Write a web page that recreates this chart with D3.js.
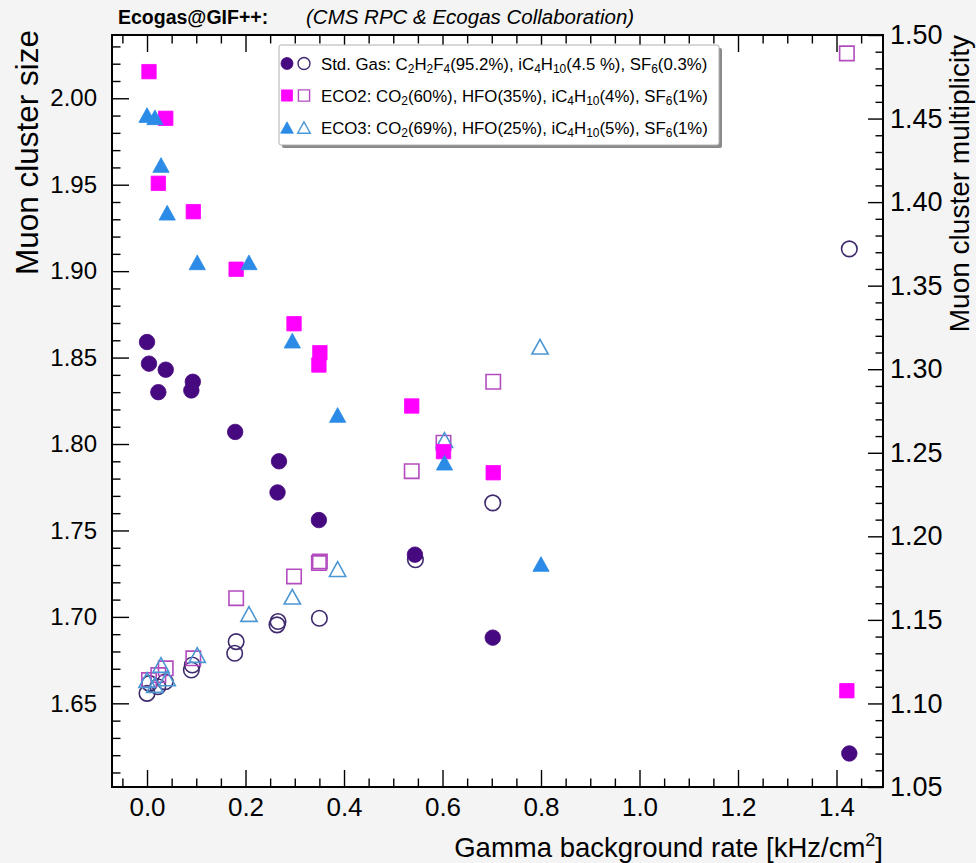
<!DOCTYPE html>
<html>
<head>
<meta charset="utf-8">
<script src="https://cdn.jsdelivr.net/npm/d3@7"></script>
<style>
  html, body { margin: 0; padding: 0; background: #f4f4f4; }
  svg { display: block; }
  text { font-family: "Liberation Sans", Arial, Helvetica, sans-serif; }
</style>
</head>
<body>
<svg id="chart" width="976" height="863"></svg>
<script>
// Gamma background rate [kHz/cm2] and measured values per gas mixture.
// Filled markers: muon cluster size (left axis). Open markers: muon cluster multiplicity (right axis).
const stdSizeX  = [0.0, 0.004, 0.038, 0.023, 0.093, 0.090, 0.179, 0.268, 0.265, 0.349, 0.544, 0.702, 1.426];
const stdSizeY  = [1.859, 1.8465, 1.843, 1.830, 1.836, 1.831, 1.807, 1.790, 1.772, 1.756, 1.736, 1.688, 1.621];
const stdMultX  = [0.0, 0.005, 0.022, 0.037, 0.090, 0.092, 0.178, 0.181, 0.264, 0.266, 0.350, 0.545, 0.702, 1.426];
const stdMultY  = [1.106, 1.112, 1.110, 1.113, 1.120, 1.123, 1.130, 1.137, 1.147, 1.149, 1.151, 1.186, 1.220, 1.372];

const eco2SizeX = [0.004, 0.023, 0.038, 0.094, 0.181, 0.2985, 0.349, 0.351, 0.5375, 0.602, 0.703, 1.421];
const eco2SizeY = [2.0154, 1.9508, 1.9884, 1.9344, 1.9011, 1.8696, 1.8457, 1.8528, 1.822, 1.7956, 1.7834, 1.6573];
const eco2MultX = [0.004, 0.023, 0.038, 0.094, 0.181, 0.2985, 0.349, 0.351, 0.5375, 0.602, 0.703, 1.421];
const eco2MultY = [1.114, 1.117, 1.121, 1.127, 1.163, 1.176, 1.184, 1.185, 1.239, 1.256, 1.2925, 1.489];

const eco3SizeX = [0.0, 0.016, 0.0284, 0.041, 0.102, 0.207, 0.295, 0.387, 0.604, 0.800];
const eco3SizeY = [1.9903, 1.989, 1.9614, 1.9338, 1.9051, 1.9051, 1.8598, 1.8168, 1.7892, 1.7306];
const eco3MultX = [0.0, 0.016, 0.0284, 0.041, 0.102, 0.207, 0.295, 0.387, 0.604, 0.798];
const eco3MultY = [1.114, 1.111, 1.123, 1.115, 1.129, 1.1535, 1.1639, 1.1804, 1.2576, 1.3135];

// Axis ticks and labels
const xMajorTicks = [0.0, 0.2, 0.4, 0.6, 0.8, 1.0, 1.2, 1.4];
const leftMajorTicks = [1.65, 1.70, 1.75, 1.80, 1.85, 1.90, 1.95, 2.00];
const rightMajorTicks = [1.05, 1.10, 1.15, 1.20, 1.25, 1.30, 1.35, 1.40, 1.45, 1.50];

const xTitle = "Gamma background rate [kHz/cm";
const leftTitle = "Muon cluster size";
const rightTitle = "Muon cluster multiplicity";
const headBold = "Ecogas@GIF++:";
const headItalic = "(CMS RPC & Ecogas Collaboration)";

// Legend entries: text segments, subscripts flagged with 1
const legendRows = [
  { key: "std", parts: [["Std. Gas: C"],["2",1],["H"],["2",1],["F"],["4",1],["(95.2%), iC"],["4",1],["H"],["10",1],["(4.5 %), SF"],["6",1],["(0.3%)"]] },
  { key: "eco2", parts: [["ECO2: CO"],["2",1],["(60%), HFO(35%), iC"],["4",1],["H"],["10",1],["(4%), SF"],["6",1],["(1%)"]] },
  { key: "eco3", parts: [["ECO3: CO"],["2",1],["(69%), HFO(25%), iC"],["4",1],["H"],["10",1],["(5%), SF"],["6",1],["(1%)"]] }
];

const styles = {
  std:  { shape: "circle",   fill: "#46097f", open: "#3f2a6e" },
  eco2: { shape: "square",   fill: "#ff00ff", open: "#b24cbf" },
  eco3: { shape: "triangle", fill: "#2b8be6", open: "#4b97d4" }
};

const svg = d3.select("#chart");
const frame = { left: 112, right: 883, top: 35, bottom: 787 };

const x = d3.scaleLinear().domain([-0.0711, 1.4944]).range([frame.left, frame.right]);
const yL = d3.scaleLinear().domain([1.6016, 2.0366]).range([frame.bottom, frame.top]);
const yR = d3.scaleLinear().domain([1.05, 1.50]).range([frame.bottom, frame.top]);

// plot area
svg.append("rect")
  .attr("x", frame.left).attr("y", frame.top)
  .attr("width", frame.right - frame.left).attr("height", frame.bottom - frame.top)
  .attr("fill", "#ffffff");

function range(a, b, step) {
  const out = [];
  const n = Math.round((b - a) / step);
  for (let i = 0; i <= n; i++) out.push(+(a + i * step).toFixed(4));
  return out;
}
const xMinor = range(-0.05, 1.45, 0.05).filter(v => !xMajorTicks.some(m => Math.abs(m - v) < 1e-6));
const leftMinor = range(1.61, 2.03, 0.01).filter(v => !leftMajorTicks.some(m => Math.abs(m - v) < 1e-6));
const rightMinor = range(1.06, 1.49, 0.01).filter(v => !rightMajorTicks.some(m => Math.abs(m - v) < 1e-6));

function styleAxis(g) {
  g.select(".domain").remove();
  g.selectAll(".tick line").attr("stroke", "#000").attr("stroke-width", 1.4);
}
const labelFont = "Liberation Sans, Arial, sans-serif";

// bottom axis (ticks pointing up)
svg.append("g").attr("transform", `translate(0,${frame.bottom})`)
  .call(d3.axisBottom(x).tickValues(xMajorTicks).tickSize(-17).tickPadding(11).tickFormat(d3.format(".1f")))
  .call(styleAxis)
  .call(g => g.selectAll("text").attr("font-size", 26).attr("fill", "#000").attr("font-family", labelFont));
svg.append("g").attr("transform", `translate(0,${frame.bottom})`)
  .call(d3.axisBottom(x).tickValues(xMinor).tickSize(-8.5).tickFormat(""))
  .call(styleAxis);
// top axis (ticks pointing down)
svg.append("g").attr("transform", `translate(0,${frame.top})`)
  .call(d3.axisBottom(x).tickValues(xMajorTicks).tickSize(17).tickFormat(""))
  .call(styleAxis);
svg.append("g").attr("transform", `translate(0,${frame.top})`)
  .call(d3.axisBottom(x).tickValues(xMinor).tickSize(8.5).tickFormat(""))
  .call(styleAxis);

// left axis
svg.append("g").attr("transform", `translate(${frame.left},0)`)
  .call(d3.axisLeft(yL).tickValues(leftMajorTicks).tickSize(-17).tickPadding(15).tickFormat(d3.format(".2f")))
  .call(styleAxis)
  .call(g => g.selectAll("text").attr("font-size", 24).attr("fill", "#000").attr("font-family", labelFont));
svg.append("g").attr("transform", `translate(${frame.left},0)`)
  .call(d3.axisLeft(yL).tickValues(leftMinor).tickSize(-8.5).tickFormat(""))
  .call(styleAxis);

// right axis
svg.append("g").attr("transform", `translate(${frame.right},0)`)
  .call(d3.axisRight(yR).tickValues(rightMajorTicks).tickSize(-15).tickPadding(7).tickFormat(d3.format(".2f")))
  .call(styleAxis)
  .call(g => g.selectAll("text").attr("font-size", 27).attr("fill", "#000").attr("font-family", labelFont));
svg.append("g").attr("transform", `translate(${frame.right},0)`)
  .call(d3.axisRight(yR).tickValues(rightMinor).tickSize(-7.5).tickFormat(""))
  .call(styleAxis);

// frame
svg.append("rect")
  .attr("x", frame.left).attr("y", frame.top)
  .attr("width", frame.right - frame.left).attr("height", frame.bottom - frame.top)
  .attr("fill", "none").attr("stroke", "#000").attr("stroke-width", 2);

// marker drawing
function markerPath(shape, size) {
  const h = size / 2;
  if (shape === "circle") {
    return `M${-h},0A${h},${h} 0 1,0 ${h},0A${h},${h} 0 1,0 ${-h},0Z`;
  } else if (shape === "square") {
    const s = h * 0.93;
    return `M${-s},${-s}H${s}V${s}H${-s}Z`;
  } else {
    const w = h * 1.05, t = h * 0.95;
    return `M0,${-t}L${w},${t}L${-w},${t}Z`;
  }
}
function drawSeries(xs, ys, yScale, key, filled) {
  const st = styles[key];
  const pts = xs.map((v, i) => [v, ys[i]]);
  svg.append("g").attr("class", `series-${key}-${filled ? "size" : "mult"}`)
    .selectAll("path").data(pts).join("path")
    .attr("transform", d => `translate(${x(d[0])},${yScale(d[1])})`)
    .attr("d", markerPath(st.shape, 15.5))
    .attr("fill", filled ? st.fill : "none")
    .attr("stroke", filled ? st.fill : st.open)
    .attr("stroke-width", filled ? 0.8 : 1.6);
}

// open markers (multiplicity, right axis)
drawSeries(stdMultX, stdMultY, yR, "std", false);
drawSeries(eco2MultX, eco2MultY, yR, "eco2", false);
drawSeries(eco3MultX, eco3MultY, yR, "eco3", false);
// filled markers (cluster size, left axis)
drawSeries(stdSizeX, stdSizeY, yL, "std", true);
drawSeries(eco2SizeX, eco2SizeY, yL, "eco2", true);
drawSeries(eco3SizeX, eco3SizeY, yL, "eco3", true);

// legend
const lg = { x: 279, y: 45, w: 440, h: 100 };
svg.append("rect").attr("x", lg.x + 3).attr("y", lg.y + 3).attr("width", lg.w).attr("height", lg.h)
  .attr("fill", "#8a8a8a").attr("rx", 2);
svg.append("rect").attr("x", lg.x).attr("y", lg.y).attr("width", lg.w).attr("height", lg.h)
  .attr("fill", "#ffffff").attr("stroke", "#b0b0b0").attr("stroke-width", 1).attr("rx", 2);
const rowY = [63.5, 95.5, 127.5];
legendRows.forEach((row, i) => {
  const st = styles[row.key];
  svg.append("path").attr("transform", `translate(287,${rowY[i]})`)
    .attr("d", markerPath(st.shape, 12)).attr("fill", st.fill).attr("stroke", st.fill).attr("stroke-width", 0.8);
  svg.append("path").attr("transform", `translate(304,${rowY[i]})`)
    .attr("d", markerPath(st.shape, 12)).attr("fill", "none").attr("stroke", st.open).attr("stroke-width", 1.4);
  const t = svg.append("text").attr("x", 321).attr("y", rowY[i] + 6).attr("font-size", 16.8).attr("fill", "#000");
  let shift = 0;
  row.parts.forEach(p => {
    const sub = !!p[1];
    const target = sub ? 3.5 : 0;
    const ts = t.append("tspan").text(p[0]).attr("dy", target - shift);
    if (sub) ts.attr("font-size", 12);
    shift = target;
  });
});

// header
svg.append("text").attr("x", 118).attr("y", 24).attr("font-size", 19.5).attr("font-weight", "bold").attr("fill", "#000").text(headBold);
svg.append("text").attr("x", 306).attr("y", 24).attr("font-size", 20.5).attr("font-style", "italic").attr("fill", "#000").text(headItalic);

// axis titles
svg.append("text").attr("transform", `translate(38,30) rotate(-90)`)
  .attr("text-anchor", "end").attr("font-size", 31.5).attr("fill", "#000").text(leftTitle);
svg.append("text").attr("transform", `translate(969,35) rotate(-90)`)
  .attr("text-anchor", "end").attr("font-size", 28).attr("fill", "#000").text(rightTitle);
const xt = svg.append("text").attr("x", 883).attr("y", 857).attr("text-anchor", "end").attr("font-size", 27.5).attr("fill", "#000");
xt.append("tspan").text(xTitle);
xt.append("tspan").attr("font-size", 18).attr("dy", -11).text("2");
xt.append("tspan").attr("dy", 11).text("]");
</script>
</body>
</html>
